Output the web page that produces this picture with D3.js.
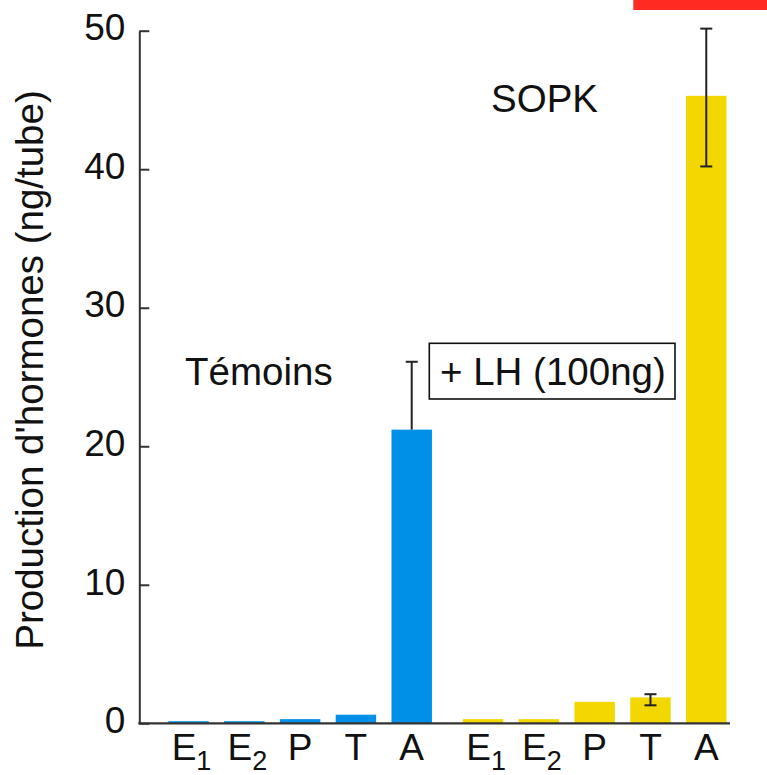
<!DOCTYPE html>
<html>
<head>
<meta charset="utf-8">
<script src="https://cdn.jsdelivr.net/npm/d3@7"></script>
<style>
  html, body { margin: 0; padding: 0; background: #fff; }
  svg { display: block; }
  text { font-family: "Liberation Sans", Arial, Helvetica, sans-serif; fill: #111; }
</style>
</head>
<body>
<svg id="chart" width="767" height="775"></svg>
<script>
// ---- data ----
const groups = ["Témoins", "SOPK"];
const hormones = ["E1", "E2", "P", "T", "A"];
const hormoneLabels = [["E", "1"], ["E", "2"], ["P", ""], ["T", ""], ["A", ""]];
const temoinsValues = [0.15, 0.15, 0.3, 0.62, 21.2];
const sopkValues = [0.3, 0.3, 1.55, 1.87, 45.3];
const temoinsErrLow = [null, null, null, null, 21.2];
const temoinsErrHigh = [null, null, null, null, 26.1];
const sopkErrLow = [null, null, null, 1.3, 40.2];
const sopkErrHigh = [null, null, null, 2.1, 50.15];
const yTicks = [0, 10, 20, 30, 40, 50];
const groupColors = ["#0090e8", "#f2d800"];
const yTitle = "Production d'hormones (ng/tube)";
const boxLabel = "+ LH (100ng)";

const seriesValues = [temoinsValues, sopkValues];
const seriesErrLow = [temoinsErrLow, sopkErrLow];
const seriesErrHigh = [temoinsErrHigh, sopkErrHigh];

const svg = d3.select("#chart");
const FS = 37;
const FA = 38.5;

// ---- scales ----
const y = d3.scaleLinear().domain([0, 50]).range([723.3, 30.7]);
const xGroup = d3.scaleBand().domain(groups).range([168.3, 726.5]).paddingInner(0.105).paddingOuter(0);
const xInner = d3.scaleBand().domain(hormones).range([0, xGroup.bandwidth()]).paddingInner(0.275).paddingOuter(0);

// red bar at top right
svg.append("rect").attr("x", 633.3).attr("y", 0).attr("width", 767 - 633.3).attr("height", 10).attr("fill", "#ff2b22");

// ---- bars ----
groups.forEach((g, gi) => {
  const gEl = svg.append("g").attr("transform", `translate(${xGroup(g)},0)`);
  gEl.selectAll("rect.bar").data(hormones).join("rect")
    .attr("class", "bar")
    .attr("x", h => xInner(h))
    .attr("width", xInner.bandwidth())
    .attr("y", (h, i) => y(seriesValues[gi][i]))
    .attr("height", (h, i) => y(0) - y(seriesValues[gi][i]))
    .attr("fill", groupColors[gi]);

  // error bars
  hormones.forEach((h, i) => {
    const lo = seriesErrLow[gi][i], hi = seriesErrHigh[gi][i];
    if (lo == null || hi == null) return;
    const cx = xInner(h) + xInner.bandwidth() / 2;
    const cap = 6;
    gEl.append("line").attr("x1", cx).attr("x2", cx).attr("y1", y(lo)).attr("y2", y(hi))
      .attr("stroke", "#222").attr("stroke-width", 2);
    gEl.append("line").attr("x1", cx - cap).attr("x2", cx + cap).attr("y1", y(hi)).attr("y2", y(hi))
      .attr("stroke", "#222").attr("stroke-width", 2);
    if (lo !== seriesValues[gi][i]) {
      gEl.append("line").attr("x1", cx - cap).attr("x2", cx + cap).attr("y1", y(lo)).attr("y2", y(lo))
        .attr("stroke", "#222").attr("stroke-width", 2);
    }
  });

  // x labels
  hormones.forEach((h, i) => {
    const cx = xInner(h) + xInner.bandwidth() / 2;
    const t = gEl.append("text").attr("x", cx + (hormoneLabels[i][1] ? 3 : 0)).attr("y", 760)
      .attr("text-anchor", "middle").attr("font-size", FS);
    t.append("tspan").text(hormoneLabels[i][0]);
    if (hormoneLabels[i][1]) {
      t.append("tspan").attr("font-size", 27).attr("dy", 10).text(hormoneLabels[i][1]);
    }
  });
});

// ---- axes ----
const yAxis = d3.axisLeft(y).tickValues(yTicks).tickFormat(d3.format("d"))
  .tickSizeInner(-10).tickSizeOuter(0).tickPadding(14);
const ax = svg.append("g").attr("transform", "translate(139.3,0)").call(yAxis);
ax.select(".domain").attr("stroke", "#333").attr("stroke-width", 2);
ax.selectAll(".tick line").attr("stroke", "#333").attr("stroke-width", 2);
ax.selectAll(".tick text").attr("font-size", FS).attr("fill", "#111")
  .attr("font-family", "Liberation Sans, Arial, sans-serif").attr("dy", "0.25em");

// baseline
svg.append("line").attr("x1", 138.3).attr("x2", 730).attr("y1", y(0)).attr("y2", y(0))
  .attr("stroke", "#333").attr("stroke-width", 2.2);

// ---- y title ----
svg.append("text").attr("transform", "translate(43,370) rotate(-90)")
  .attr("text-anchor", "middle").attr("font-size", FA).text(yTitle);

// ---- annotations ----
svg.append("text").attr("x", 185).attr("y", 385).attr("font-size", FA).text(groups[0]);
svg.append("text").attr("x", 491).attr("y", 112).attr("font-size", FA).text(groups[1]);
svg.append("rect").attr("x", 429.3).attr("y", 343.3).attr("width", 675 - 429.3).attr("height", 399 - 343.3)
  .attr("fill", "none").attr("stroke", "#111").attr("stroke-width", 1.6);
svg.append("text").attr("x", 440).attr("y", 385).attr("font-size", FA).text(boxLabel);
</script>
</body>
</html>
